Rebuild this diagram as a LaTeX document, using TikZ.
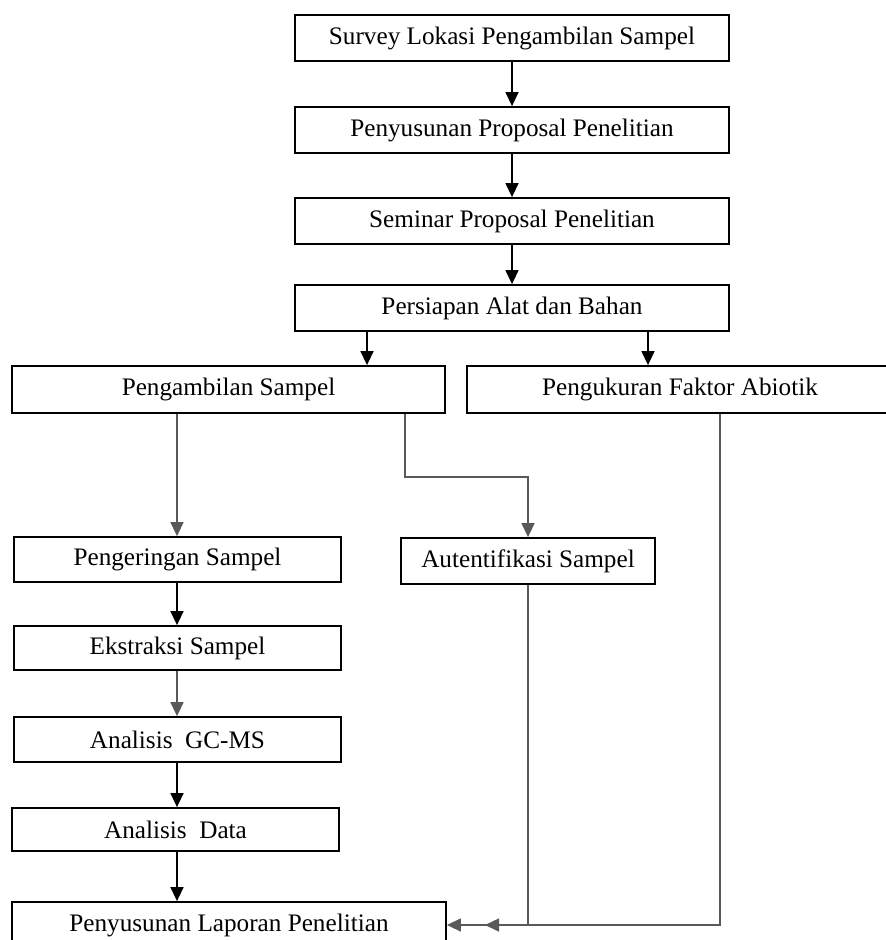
\documentclass[tikz,border=0pt]{standalone}
\usepackage{fontspec}
\setmainfont{Liberation Serif}
\usetikzlibrary{arrows.meta,calc}
\begin{document}
\begin{tikzpicture}[x=0.5pt,y=-0.5pt,
  box/.style={draw=black,line width=0.9pt,fill=white,inner sep=0pt,
    font=\fontsize{12.6}{14}\selectfont,anchor=center},
  arr/.style={draw=black,line width=0.75pt,-{Triangle[length=7pt,width=6.5pt]}},
  garr/.style={draw=black!65,line width=0.75pt,-{Triangle[length=7pt,width=6.5pt]}}]
\useasboundingbox (0,0) rectangle (885,940);
\fill[white] (0,0) rectangle (885,940);

\node[box,minimum width=217pt,minimum height=23pt] (survey) at (512,38) {Survey Lokasi Pengambilan Sampel};
\node[box,minimum width=217pt,minimum height=23pt] (prop) at (512,130) {Penyusunan Proposal Penelitian};
\node[box,minimum width=217pt,minimum height=23pt] (sem) at (512,221) {Seminar Proposal Penelitian};
\node[box,minimum width=217pt,minimum height=23pt] (pers) at (512,308) {Persiapan Alat dan Bahan};
\node[box,minimum width=216.5pt,minimum height=23.5pt] (amb) at (228.5,389.5) {Pengambilan Sampel};
\node[box,minimum width=213pt,minimum height=23.5pt] (ukur) at (680,389.5) {Pengukuran Faktor Abiotik};
\node[box,minimum width=163.5pt,minimum height=22.5pt] (kering) at (177.5,559.5) {Pengeringan Sampel};
\node[box,minimum width=127pt,minimum height=23pt] (aut) at (528,561) {Autentifikasi Sampel};
\node[box,minimum width=163.5pt,minimum height=22pt] (eks) at (177.5,648) {Ekstraksi Sampel};
\node[box,minimum width=163.5pt,minimum height=22.5pt] (gcms) at (177.5,739.5) {Analisis\ \ GC-MS};
\node[box,minimum width=163.5pt,minimum height=21.5pt] (data) at (175.5,829.5) {Analisis\ \ Data};
\node[box,minimum width=217pt,minimum height=23pt] (lap) at (229,925) {Penyusunan Laporan Penelitian};

\coordinate (cL) at (367,0);
\coordinate (cR) at (648,0);
\coordinate (cA) at (177,0);
\coordinate (bend) at (405,477);
\coordinate (cU) at (720,0);
\coordinate (cJ) at (485,0);

\draw[arr] (survey.south) -- (prop.north);
\draw[arr] (prop.south) -- (sem.north);
\draw[arr] (sem.south) -- (pers.north);
\draw[arr] (cL |- pers.south) -- (cL |- amb.north);
\draw[arr] (cR |- pers.south) -- (cR |- ukur.north);
\draw[garr] (cA |- amb.south) -- (cA |- kering.north);
\draw[garr] (bend |- amb.south) -- (bend) -| (aut.north);
\draw[arr] (cA |- kering.south) -- (cA |- eks.north);
\draw[garr] (cA |- eks.south) -- (cA |- gcms.north);
\draw[arr] (cA |- gcms.south) -- (cA |- data.north);
\draw[arr] (cA |- data.south) -- (cA |- lap.north);
\draw[garr] (aut.south) |- (cJ |- lap.east);
\draw[garr] (cU |- ukur.south) |- (lap.east);
\end{tikzpicture}
\end{document}
